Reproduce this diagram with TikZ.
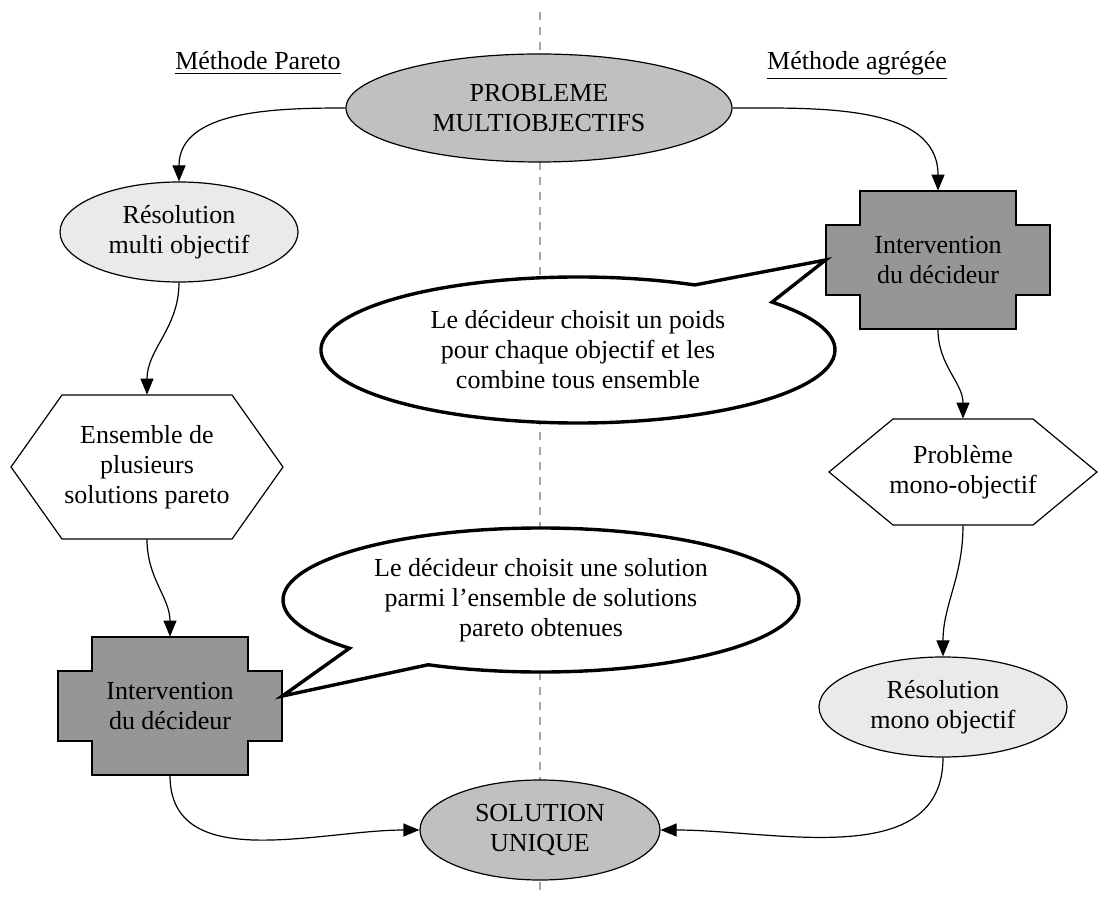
\documentclass[tikz,border=0pt]{standalone}
\usepackage{fontspec}
\setmainfont{Liberation Serif}
\usetikzlibrary{arrows.meta,positioning,shapes.geometric,shapes.callouts}

\definecolor{darkfill}{RGB}{150,150,150}
\definecolor{midfill}{RGB}{192,192,192}
\definecolor{palefill}{RGB}{234,234,234}

% cross shaped box round a centre
\newcommand{\crossshape}[1]{%
  \draw[shapeline, fill=darkfill] (#1) ++(-39pt,34.5pt) -- ++(78pt,0pt) -- ++(0pt,-17pt) -- ++(17pt,0pt)
    -- ++(0pt,-35pt) -- ++(-17pt,0pt) -- ++(0pt,-17pt) -- ++(-78pt,0pt) -- ++(0pt,17pt)
    -- ++(-17pt,0pt) -- ++(0pt,35pt) -- ++(17pt,0pt) -- cycle;}
% hexagon: centre, half width, half top width, half height
\newcommand{\hexshape}[4]{%
  \draw[shapeline, fill=white] (#1) ++(-#3pt,#4pt) -- ++({2*#3pt},0pt) -- ++({(#2-#3)*1pt},-#4pt)
    -- ++({(#3-#2)*1pt},-#4pt) -- ++({-2*#3pt},0pt) -- ++({(#3-#2)*1pt},#4pt) -- cycle;}

\begin{document}
\begin{tikzpicture}[x=0.5pt, y=-0.5pt, font=\fontsize{13pt}{15pt}\selectfont]
\tikzset{
	    shapeline/.style={draw=black, line width=0.6pt},
	    mainnode/.style={ellipse, shapeline, fill=midfill, inner sep=0pt, align=center},
	    solvenode/.style={ellipse, shapeline, fill=palefill, minimum height=50pt, inner sep=0pt, align=center},
	    boxnode/.style={rectangle, inner sep=0pt, align=center},
	    bubble/.style={ellipse callout, draw=black, line width=1.7pt, fill=white, callout pointer arc=22, inner sep=0pt, align=center},
	    myarrow/.style={-{Triangle[length=8pt,width=6.5pt]}, line width=0.6pt},
	    divider/.style={draw=black!35, line width=0.6pt, dash pattern=on 4pt off 3.5pt}
	}
	\useasboundingbox (0,0) rectangle (1098,897);
	\coordinate (top) at (540,12);
	\coordinate (bottom) at (540,897);
	\draw[divider] (top) -- (bottom);

	\node[anchor=base] (pareto) at (258,70) {\underline{Méthode Pareto}};
	\node[anchor=base] (agregee) at (857,70) {\underline{Méthode agrégée}};

	\node[mainnode, minimum width=193pt, minimum height=54pt] (probleme) at (539,108) {PROBLEME\\MULTIOBJECTIFS};
	\node[solvenode, minimum width=119pt] (resmulti) at (179,232) {Résolution\\multi objectif};

	\hexshape{147,467}{68}{42.5}{36}
	\node[boxnode, minimum height=72pt] (lhex) at (147,467) {Ensemble de\\plusieurs\\solutions pareto};

	\crossshape{170,706}
	\node[boxnode, minimum width=112pt, minimum height=69pt] (lcross) at (170,706) {Intervention\\du décideur};

	\crossshape{938,260}
	\node[boxnode, minimum width=112pt, minimum height=69pt] (rcross) at (938,260) {Intervention\\du décideur};

	\hexshape{963,472}{67}{35}{26.5}
	\node[boxnode, minimum height=53pt] (rhex) at (963,472) {Problème\\mono-objectif};

	\node[solvenode, minimum width=124pt] (resmono) at (943,707) {Résolution\\mono objectif};
	\node[mainnode, minimum width=120pt, minimum height=50pt] (solution) at (540,830) {SOLUTION\\UNIQUE};

	\node[bubble, minimum width=257pt, minimum height=73pt, callout absolute pointer={(rcross.west)}] (poids) at (578,350)
		{Le décideur choisit un poids\\pour chaque objectif et les\\combine tous ensemble};
	\node[bubble, minimum width=258pt, minimum height=72pt, callout absolute pointer={([yshift=5pt]lcross.east)}] (choix) at (541,600)
		{Le décideur choisit une solution\\parmi l’ensemble de solutions\\pareto obtenues};

	\draw[myarrow] (probleme.west) to[out=180, in=90] (resmulti.north);
	\draw[myarrow] (probleme.east) to[out=0, in=90] (rcross.north);
	\draw[myarrow] (resmulti.south) to[out=-90, in=90] (lhex.north);
	\draw[myarrow] (lhex.south) to[out=-90, in=90] (lcross.north);
	\draw[myarrow] (lcross.south) to[out=-90, in=180] (solution.west);
	\draw[myarrow] (rcross.south) to[out=-90, in=90] (rhex.north);
	\draw[myarrow] (rhex.south) to[out=-90, in=90] (resmono.north);
	\draw[myarrow] (resmono.south) to[out=-90, in=0] (solution.east);
\end{tikzpicture}
\end{document}
